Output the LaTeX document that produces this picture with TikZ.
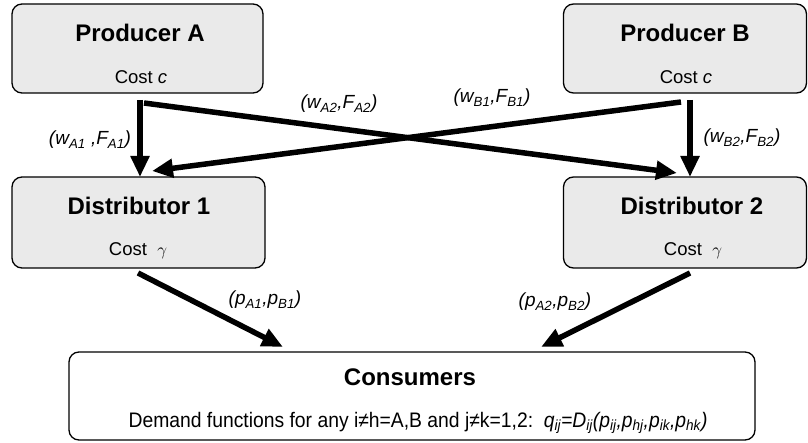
\documentclass[tikz,border=0pt]{standalone}
\usepackage{fontspec}
\setmainfont{Liberation Sans}
\newfontfamily\narrowfam[FakeStretch=0.92]{Liberation Sans}
\usetikzlibrary{arrows.meta}
\definecolor{boxgray}{RGB}{234,234,234}
\begin{document}
\begin{tikzpicture}[x=1pt,y=-1pt,
  box/.style={draw, line width=1.3pt, rounded corners=10pt, fill=boxgray, inner sep=0pt},
  wbox/.style={box, fill=white},
  title/.style={font=\fontsize{24}{28}\selectfont\bfseries, anchor=base, inner sep=0pt},
  cost/.style={font=\fontsize{18.5}{23}\selectfont, anchor=base, inner sep=0pt},
  demand/.style={font=\narrowfam\fontsize{21}{25}\selectfont, anchor=base, inner sep=0pt},
  lab/.style={font=\fontsize{19}{23}\selectfont\itshape, inner sep=0pt},
  arr/.style={line width=5.5pt, -{Triangle[length=21pt,width=18pt]}}]
\useasboundingbox (0,0) rectangle (808,443);
% boxes
\node[box, minimum width=251pt, minimum height=89pt] (pa) at (137.5,48.5) {};
\node[box, minimum width=243pt, minimum height=89pt] (pb) at (685,48.5) {};
\node[box, minimum width=253pt, minimum height=91pt] (da) at (138.5,222.5) {};
\node[box, minimum width=243pt, minimum height=91pt] (db) at (685,222.5) {};
\node[wbox, minimum width=686pt, minimum height=88pt] (cs) at (412,396) {};
% texts
\node[title] (pat) at (140,42) {Producer A};
\node[cost] (pac) at (141,84) {Cost \textit{c}};
\node[title] (pbt) at (685,42) {Producer B};
\node[cost] (pbc) at (686,84) {Cost \textit{c}};
\node[title] (dat) at (139,215) {Distributor 1};
\node[cost] (dac) at (138,256) {Cost \ $\gamma$};
\node[title] (dbt) at (692,215) {Distributor 2};
\node[cost] (dbc) at (693,256) {Cost \ $\gamma$};
\node[title] (cst) at (410,385) {Consumers};
\node[demand] (csd) at (418,427) {Demand functions for any i≠h=A,B and j≠k=1,2:\ \ \textit{q\textsubscript{ij}=D\textsubscript{ij}(p\textsubscript{ij},p\textsubscript{hj},p\textsubscript{ik},p\textsubscript{hk})}};
% connector end points
\coordinate (a0) at (140,100);
\coordinate (a1) at (140,177);
\coordinate (ax0) at (144,103);
\coordinate (ax1) at (677,173);
\coordinate (b0) at (690,100);
\coordinate (b1) at (690,177);
\coordinate (bx0) at (681,102);
\coordinate (bx1) at (152,171);
\coordinate (d10) at (138,273);
\coordinate (d11) at (283,347);
\coordinate (d20) at (690,273);
\coordinate (d21) at (541,347);
% arrows
\draw[arr] (a0) -- (a1);
\draw[arr] (b0) -- (b1);
\draw[arr] (ax0) -- (ax1);
\draw[arr] (bx0) -- (bx1);
\draw[arr] (d10) -- (d11);
\draw[arr] (d20) -- (d21);
% labels
\node[lab] (l1) at (90,140) {(w\textsubscript{A1} ,F\textsubscript{A1})};
\node[lab] (l2) at (339,104) {(w\textsubscript{A2},F\textsubscript{A2})};
\node[lab] (l3) at (492,98) {(w\textsubscript{B1},F\textsubscript{B1})};
\node[lab] (l4) at (742,138) {(w\textsubscript{B2},F\textsubscript{B2})};
\node[lab] (l5) at (265,300) {(p\textsubscript{A1},p\textsubscript{B1})};
\node[lab] (l6) at (555,302) {(p\textsubscript{A2},p\textsubscript{B2})};
\end{tikzpicture}
\end{document}
